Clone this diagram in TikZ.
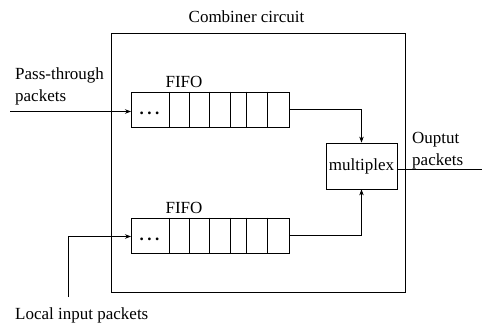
\documentclass[tikz,border=0pt]{standalone}
\usepackage{fontspec}
\setmainfont{Liberation Serif}
\usetikzlibrary{arrows.meta,calc}
\begin{document}
\begin{tikzpicture}[x=1pt,y=-1pt,
  lbl/.style={font=\fontsize{17}{22}\selectfont, inner sep=0pt},
  wire/.style={line width=0.8pt},
  arr/.style={wire,-{Stealth[length=6pt,width=4.5pt]}},
  boxline/.style={draw, line width=0.8pt},
  fifobox/.style={boxline, minimum width=157.5pt, minimum height=35pt, inner sep=0pt, anchor=north west}]
\useasboundingbox (0,0) rectangle (482,324);
% outer combiner box
\node[boxline, anchor=north west, minimum width=294pt, minimum height=259pt, inner sep=0pt] (comb) at (111,33) {};
\node[lbl] (title) at (246.5,17) {Combiner circuit};
% FIFO 1
\node[fifobox] (fifo1) at (131,91.5) {};
\foreach \x in {169,189.3,209.3,230,246.7,267.7}
  \draw[wire] (\x,91.5) -- (\x,127);
\node[lbl] (dots1) at (149.5,113) {\textbf{.\hspace{3.5pt}.\hspace{3.5pt}.}};
\node[lbl] (fl1) at (184,82) {FIFO};
% FIFO 2
\node[fifobox] (fifo2) at (131,217.5) {};
\foreach \x in {169,189.3,209.3,230,246.7,267.7}
  \draw[wire] (\x,217.5) -- (\x,253);
\node[lbl] (dots2) at (149.5,239) {\textbf{.\hspace{3.5pt}.\hspace{3.5pt}.}};
\node[lbl] (fl2) at (184,208) {FIFO};
% multiplexer
\node[boxline, minimum width=71pt, minimum height=46pt, inner sep=0pt, lbl] (mux) at (361.5,166) {multiplex};
% inputs
\node[lbl, anchor=west, align=left] (ptl) at (15,86) {Pass-through\\packets};
\coordinate (pin) at (10,111.5);
\draw[arr] (pin) -- (pin -| fifo1.west);
\node[lbl, anchor=west] (lil) at (15,315) {Local input packets};
\coordinate (lin) at (68,297);
\coordinate (lcorner) at (68,236.5);
\draw[arr] (lin) -- (lcorner) -- (lcorner -| fifo2.west);
% to multiplexer
\draw[arr] (fifo1.east) -| (mux.north);
\draw[arr] (fifo2.east) -| (mux.south);
% output
\coordinate (oend) at (482,169);
\draw[wire] (oend -| mux.east) -- (oend);
\node[lbl, anchor=west, align=left] (outl) at (412,151) {Ouptut\\packets};
\end{tikzpicture}
\end{document}
